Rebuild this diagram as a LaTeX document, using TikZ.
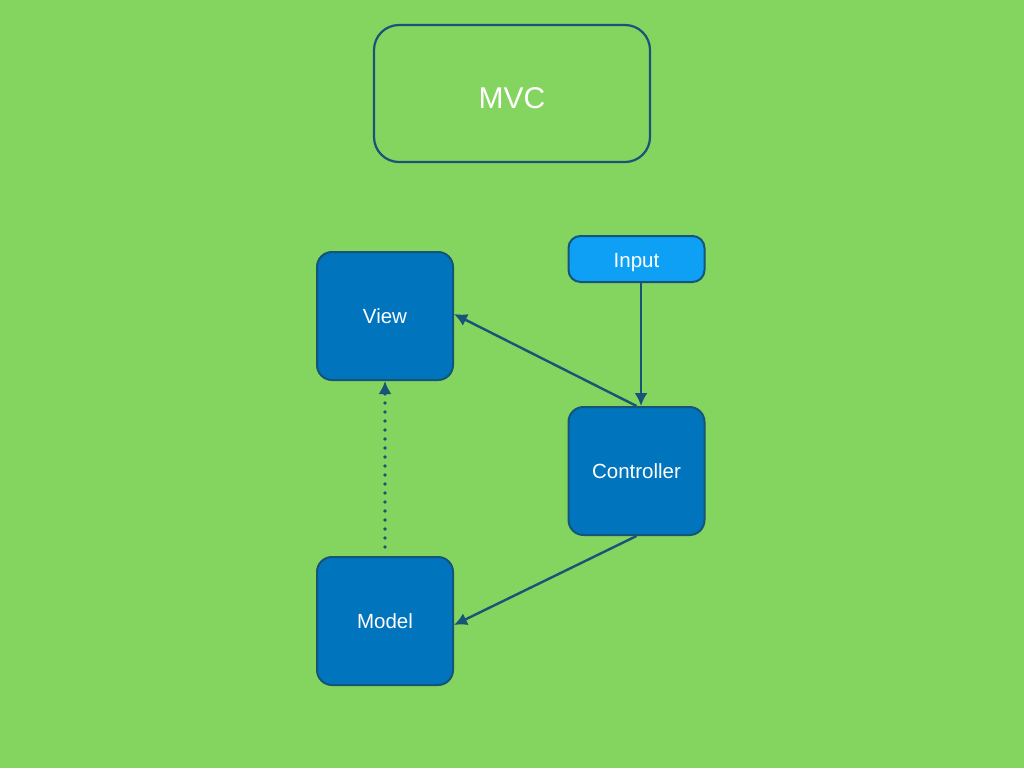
\documentclass[tikz,border=0pt]{standalone}
\usepackage{fontspec}
\setmainfont{Liberation Sans}
\usetikzlibrary{arrows.meta}
\definecolor{bggreen}{RGB}{132,212,96}
\definecolor{boxblue}{RGB}{0,116,188}
\definecolor{inblue}{RGB}{14,160,245}
\definecolor{edgeblue}{RGB}{22,84,120}
\begin{document}
\begin{tikzpicture}[x=1pt,y=-1pt,>={Latex[length=13pt,width=13pt]},
  block/.style={draw=edgeblue,line width=2pt,fill=boxblue,rounded corners=15pt,
    minimum width=136pt,minimum height=128pt,text=white,font=\fontsize{20.5}{24}\selectfont},
  link/.style={draw=edgeblue,line width=2.4pt,->}]
\fill[bggreen](0,0)rectangle(1024,768);
\node[draw=edgeblue,line width=2.2pt,rounded corners=25pt,minimum width=276pt,minimum height=137pt,
  text=white,font=\fontsize{30}{34}\selectfont](mvc)at(512,93.5){\raisebox{-5pt}[\height][\depth]{MVC}};
\node[block](view)at(385,316){View};
\node[block](model)at(385,621){Model};
\node[block](ctrl)at(636.5,471){Controller};
\node[block,fill=inblue,minimum height=46pt,rounded corners=12pt](input)at(636.5,259){\raisebox{-3.5pt}[\height][\depth]{Input}};
% connections
\draw[link]([xshift=4.5pt]input.south)--([xshift=4.5pt]ctrl.north);
\draw[link](ctrl.north)--([yshift=2pt]view.east);
\draw[link](ctrl.south)--([yshift=-4pt]model.east);
\draw[link,line width=3.6pt,line cap=round,dash pattern=on 0pt off 9pt,shorten <=9pt]
  (model.north)--(view.south);
\end{tikzpicture}
\end{document}
